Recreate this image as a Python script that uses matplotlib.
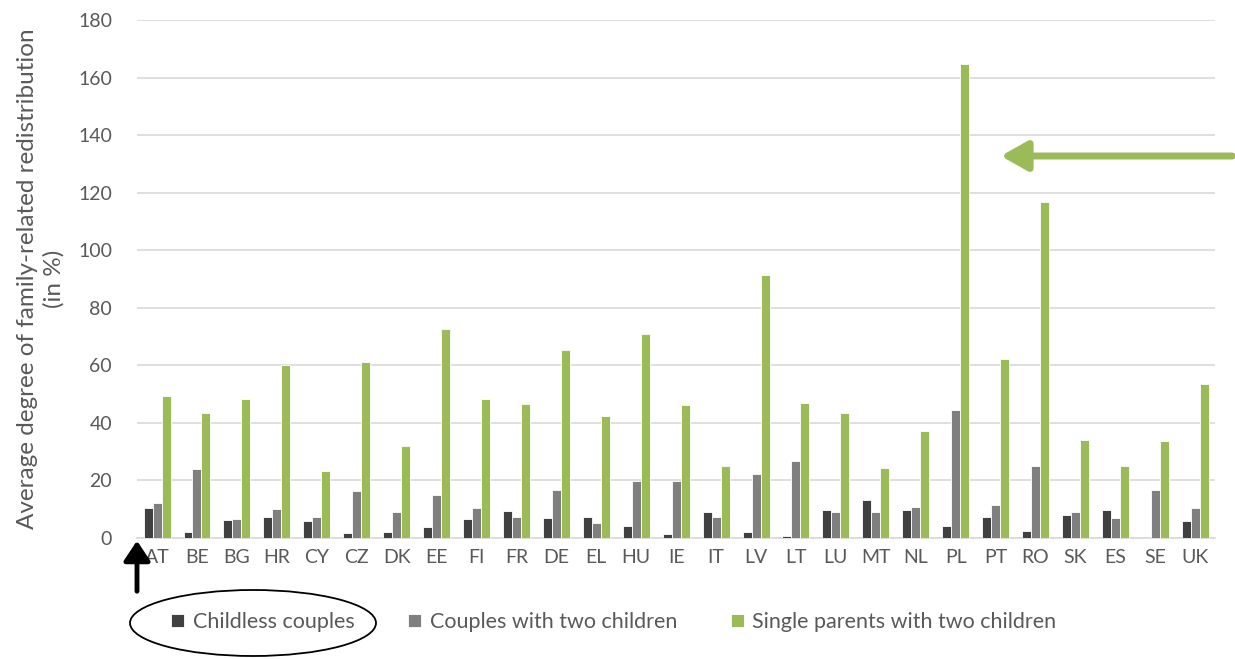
import matplotlib
matplotlib.use("Agg")
import matplotlib.pyplot as plt
import numpy as np
from matplotlib.patches import Ellipse, FancyArrowPatch

countries = ["AT", "BE", "BG", "HR", "CY", "CZ", "DK", "EE", "FI", "FR", "DE", "EL", "HU", "IE",
             "IT", "LV", "LT", "LU", "MT", "NL", "PL", "PT", "RO", "SK", "ES", "SE", "UK"]
childless = [10.4, 2.1, 6.3, 7.2, 5.9, 1.7, 2.1, 3.9, 6.6, 9.3, 7.0, 7.2, 4.1, 1.3,
             9.2, 2.1, 0.7, 9.7, 13.1, 9.6, 4.1, 7.2, 2.4, 7.9, 9.7, 0.0, 6.0]
couples_two = [12.2, 23.9, 6.6, 10.1, 7.3, 16.2, 9.2, 14.9, 10.3, 7.2, 16.7, 5.2, 19.9, 19.9,
               7.3, 22.2, 26.8, 9.2, 9.0, 10.8, 44.4, 11.4, 25.0, 9.0, 7.1, 16.7, 10.4]
single_two = [49.5, 43.3, 48.2, 60.2, 23.2, 61.2, 31.8, 72.8, 48.3, 46.4, 65.2, 42.5, 70.9, 46.3,
              24.9, 91.3, 47.0, 43.5, 24.5, 37.3, 164.8, 62.2, 116.8, 33.9, 24.9, 33.7, 53.5]
series_names = ["Childless couples", "Couples with two children", "Single parents with two children"]
colors = ["#404040", "#7f7f7f", "#9bbb59"]

plt.rcParams['font.family'] = ['Lato', 'DejaVu Sans']
fig = plt.figure(figsize=(12.35, 6.59), dpi=100)
ax = fig.add_axes([0.111, 0.1836, 0.873, 0.786])

x = np.arange(len(countries))
w = 0.225
for i, (vals, name, c) in enumerate(zip([childless, couples_two, single_two], series_names, colors)):
    ax.bar(x + (i - 1) * w, vals, width=w, color=c, edgecolor="white", linewidth=0.6,
           label=name, zorder=3)

ax.set_xlim(-0.5, len(countries) - 0.5)
ax.set_ylim(0, 180)
ax.set_yticks(np.arange(0, 181, 20))
ax.set_xticks(x)
ax.set_xticklabels(countries)
ax.yaxis.grid(True, color="#d9d9d9", linewidth=1.2, zorder=0)
for s in ["top", "right", "left"]:
    ax.spines[s].set_visible(False)
ax.spines["bottom"].set_color("#d9d9d9")
ax.spines["bottom"].set_linewidth(1.2)
ax.tick_params(axis="both", length=0, labelsize=14, colors="#595959", pad=8)
ax.tick_params(axis="y", pad=18)
ax.set_ylabel("Average degree of family-related redistribution\n(in %)", fontsize=17.5,
              color="#595959", labelpad=10, linespacing=1.25)

leg = fig.legend(loc="center", bbox_to_anchor=(0.497, 0.056), ncol=3, frameon=False,
                 fontsize=15.5, handlelength=0.6, handleheight=0.6, handletextpad=0.4,
                 columnspacing=2.5)
for t in leg.get_texts():
    t.set_color("#595959")

# Ellipse around first legend entry
fig.add_artist(Ellipse((253 / 1235, 1 - 623 / 659), 246 / 1235, 66 / 659,
                       transform=fig.transFigure, fill=False, edgecolor="black", linewidth=1.3))

# Black upward arrow under axis origin
fig.add_artist(FancyArrowPatch((137 / 1235, 1 - 594 / 659), (137 / 1235, 1 - 538 / 659),
                               transform=fig.transFigure, arrowstyle="-|>,head_width=8,head_length=12",
                               mutation_scale=1, color="black", linewidth=3.5))

# Green arrow pointing at PL
fig.add_artist(FancyArrowPatch((1.0, 1 - 156 / 659), (998 / 1235, 1 - 156 / 659),
                               transform=fig.transFigure, arrowstyle="-|>,head_width=9,head_length=16",
                               mutation_scale=1, color="#9bbb59", linewidth=5))

fig.savefig("out.png", dpi=100)
